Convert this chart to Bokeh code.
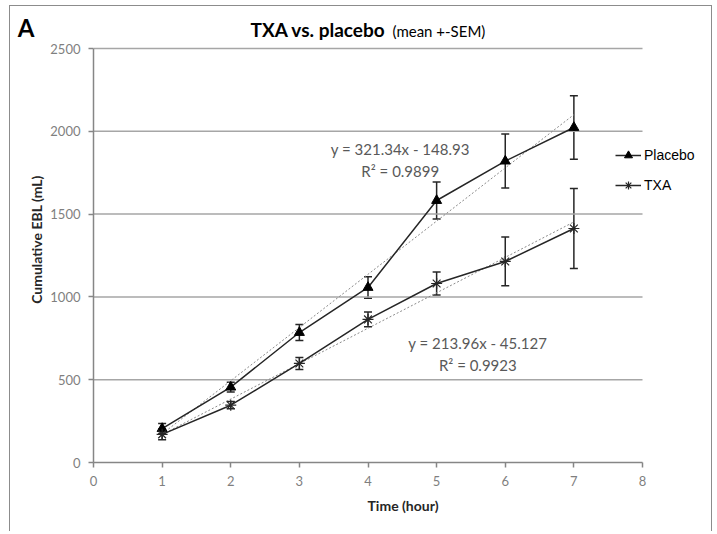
from bokeh.plotting import figure
from bokeh.models import (ColumnDataSource, Whisker, TeeHead, Legend, LegendItem,
                          Label, FixedTicker, Range1d, LinearAxis)
from bokeh.embed import file_html
from bokeh.resources import INLINE

# ---- data ----
hours = [1, 2, 3, 4, 5, 6, 7]
placebo_mean = [205, 455, 785, 1057, 1582, 1820, 2023]
placebo_sem = [30, 30, 48, 65, 112, 163, 192]
txa_mean = [170, 346, 598, 864, 1081, 1214, 1413]
txa_sem = [32, 22, 36, 45, 70, 147, 242]

placebo_slope, placebo_intercept = 321.34, -148.93
txa_slope, txa_intercept = 213.96, -45.127
trend_x = [1, 7]

x_ticks = [0, 1, 2, 3, 4, 5, 6, 7, 8]
y_ticks = [0, 500, 1000, 1500, 2000, 2500]

title_main = "TXA vs. placebo"
title_sub = "(mean +-SEM)"
panel_letter = "A"
placebo_eq = "y = 321.34x - 148.93"
placebo_r2 = "R² = 0.9899"
txa_eq = "y = 213.96x - 45.127"
txa_r2 = "R² = 0.9923"

FONT = "Lato"

# frame extends right of x=8 (legend overlap) and above 2500 (title room)
FRAME_W = 619
FRAME_H = 446
X_END = 8 * FRAME_W / 549
Y_END = 2500 * FRAME_H / 414
LETTER_Y = 2625

p = figure(width=703, height=526, output_backend="svg", toolbar_location=None,
           x_range=Range1d(0, X_END), y_range=Range1d(0, Y_END),
           min_border_left=83, min_border_right=703 - 83 - FRAME_W,
           min_border_top=10, min_border_bottom=526 - 10 - FRAME_H)
p.styles = {"border": "1px solid #8c8c8c", "border-bottom": "none",
            "margin": "5px 0 0 9px"}
p.background_fill_color = "white"
p.border_fill_color = "white"
p.outline_line_color = None

# gridlines (only across the 0..8 span)
p.segment(x0=x_ticks[0], x1=x_ticks[-1], y0=y_ticks[1:], y1=y_ticks[1:],
          line_color="#a6a6a6", line_width=1.5)

# axes
p.xaxis.ticker = FixedTicker(ticks=x_ticks)
p.yaxis.ticker = FixedTicker(ticks=y_ticks)
p.xaxis.bounds = (x_ticks[0], x_ticks[-1])
p.yaxis.bounds = (y_ticks[0], y_ticks[-1])
for ax in (p.xaxis, p.yaxis):
    ax.axis_line_color = "#868686"
    ax.axis_line_width = 1.5
    ax.major_tick_line_color = "#868686"
    ax.major_tick_line_width = 1.5
    ax.major_tick_in = 0
    ax.major_tick_out = 5
    ax.minor_tick_line_color = None
    ax.major_label_text_color = "#7f7f7f"
    ax.major_label_text_font = FONT
    ax.major_label_text_font_size = "13px"
    ax.axis_label_text_font = FONT
    ax.axis_label_text_font_size = "14px"
    ax.axis_label_text_font_style = "bold"
    ax.axis_label_text_color = "#262626"
p.xaxis.axis_label = "Time (hour)"
p.yaxis.axis_label = "Cumulative EBL (mL)"
p.xaxis.major_label_standoff = 8
p.yaxis.major_label_standoff = 8
p.xaxis.axis_label_standoff = 8
p.yaxis.axis_label_standoff = 2
p.xgrid.grid_line_color = None
p.ygrid.grid_line_color = None

# panel letter: an outer, line-less axis carrying a single labelled tick
letter_axis = LinearAxis(ticker=FixedTicker(ticks=[LETTER_Y]),
                         major_label_overrides={LETTER_Y: panel_letter},
                         axis_line_color=None, major_tick_line_color=None,
                         minor_tick_line_color=None, major_tick_out=0,
                         major_tick_in=0, major_label_standoff=-9,
                         major_label_text_font=FONT,
                         major_label_text_font_size="24px",
                         major_label_text_font_style="bold",
                         major_label_text_color="black")
p.add_layout(letter_axis, "left")

# trend lines
p.line(trend_x, [placebo_slope * x + placebo_intercept for x in trend_x],
       line_color="#8a8a8a", line_dash="2 2", line_width=1)
p.line(trend_x, [txa_slope * x + txa_intercept for x in trend_x],
       line_color="#8a8a8a", line_dash="2 2", line_width=1)

# sources
src_p = ColumnDataSource(dict(x=hours, y=placebo_mean,
                              lo=[m - s for m, s in zip(placebo_mean, placebo_sem)],
                              hi=[m + s for m, s in zip(placebo_mean, placebo_sem)]))
src_t = ColumnDataSource(dict(x=hours, y=txa_mean,
                              lo=[m - s for m, s in zip(txa_mean, txa_sem)],
                              hi=[m + s for m, s in zip(txa_mean, txa_sem)]))

for src in (src_p, src_t):
    w = Whisker(source=src, base="x", lower="lo", upper="hi",
                line_color="#262626", line_width=1.5,
                upper_head=TeeHead(size=8, line_color="#262626", line_width=1.5),
                lower_head=TeeHead(size=8, line_color="#262626", line_width=1.5))
    p.add_layout(w)

lp = p.line("x", "y", source=src_p, line_color="#262626", line_width=1.5)
mp = p.scatter("x", "y", source=src_p, marker="triangle", size=10,
               fill_color="black", line_color="black")
lt = p.line("x", "y", source=src_t, line_color="#262626", line_width=1.5)
mt = p.scatter("x", "y", source=src_t, marker="asterisk", size=11,
               line_color="#262626", line_width=1.2)

legend = Legend(items=[LegendItem(label="Placebo", renderers=[lp, mp]),
                       LegendItem(label="TXA", renderers=[lt, mt])],
                location=(522, 267), padding=0, margin=0, spacing=10,
                glyph_width=26, glyph_height=20, label_height=20,
                label_standoff=3, border_line_color=None,
                background_fill_alpha=0,
                label_text_font="Liberation Sans", label_text_font_size="14px",
                label_text_color="black")
p.add_layout(legend, "center")

# equations
eq_style = dict(text_font=FONT, text_font_size="15px", text_color="#595959",
                text_align="center", text_baseline="middle")
p.add_layout(Label(x=4.47, y=1896, text=placebo_eq, **eq_style))
p.add_layout(Label(x=4.47, y=1763, text=placebo_r2, **eq_style))
p.add_layout(Label(x=5.6, y=719, text=txa_eq, **eq_style))
p.add_layout(Label(x=5.6, y=586, text=txa_r2, **eq_style))

# title (screen units relative to the frame)
p.add_layout(Label(x=157, y=433, x_units="screen", y_units="screen",
                   text=title_main, text_font=FONT, text_font_size="19px",
                   text_font_style="bold", text_color="black",
                   text_baseline="middle"))
p.add_layout(Label(x=299, y=432, x_units="screen", y_units="screen",
                   text=title_sub, text_font=FONT, text_font_size="15px",
                   text_color="black", text_baseline="middle"))

open("out.html", "w").write(file_html(p, INLINE))
